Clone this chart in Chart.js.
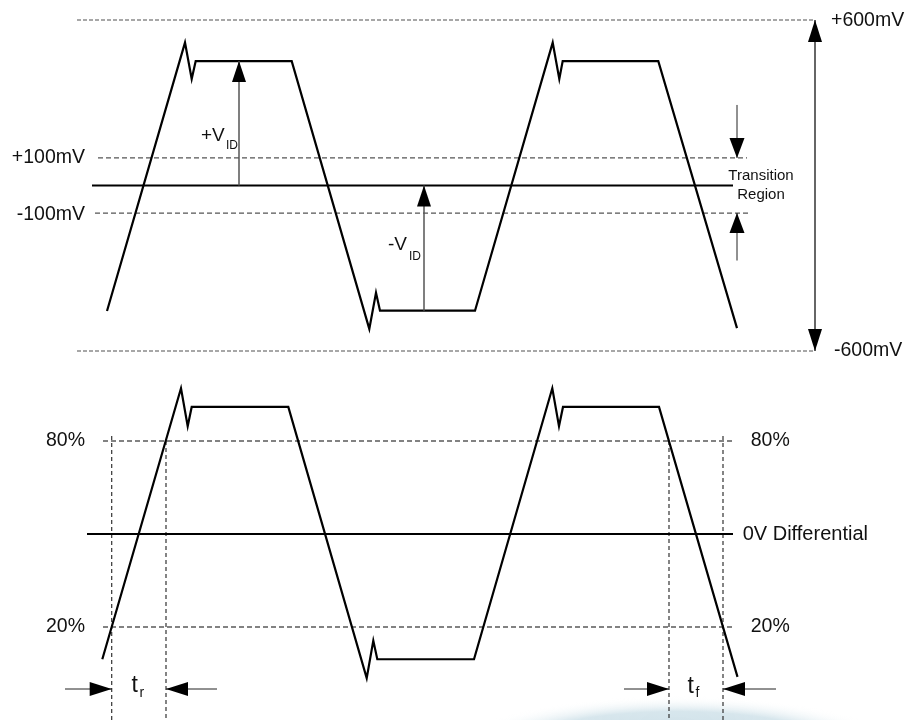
<!DOCTYPE html>
<html>
<head>
<meta charset="utf-8">
<script src="https://cdn.jsdelivr.net/npm/chart.js@4.4.1/dist/chart.umd.min.js"></script>
<style>
  html, body { margin: 0; padding: 0; background: #fff; }
  #wrap { width: 909px; height: 720px; position: relative; }
</style>
</head>
<body>
<div id="wrap"><canvas id="chart"></canvas></div>
<script>
// receiver input, differential voltage (mV) vs time (arbitrary units)
const timeTop = [107, 185, 191.7, 195.7, 291.7, 369.3, 376, 380, 475, 552.7, 559.3, 562.7, 658.3, 737];
const mvTop   = [-455, 518, 386, 451, 451, -520, -389, -454, -454, 518, 386, 451, 451, -517];

// output swing in % vs time
const timeBot = [102.3, 181, 187.7, 191.7, 288.3, 366.7, 373.3, 377.3, 474, 552.3, 559, 563, 659, 737.5];
const pctBot  = [9.6, 97, 84.8, 91, 91, 3.5, 15.6, 9.6, 9.6, 97, 84.8, 91, 91, 3.9];

// reference levels
const mvLevels    = [600, 100, 0, -100, -600];
const mvLevelFrom = [77, 98, 92, 95, 77];
const mvLevelTo   = [813, 747, 733, 749, 813];
const mvLabels    = ['+600mV', '+100mV', '-100mV', '-600mV'];

const pctLevels    = [80, 50, 20];
const pctLevelFrom = [103, 87, 103];
const pctLevelTo   = [735, 733, 732];
const pctLabels    = ['80%', '20%'];

// 20% / 80% crossing times (tr on the left, tf on the right)
const edgeTimes  = [111.7, 166, 669, 723];
const edgeTopPct = [81.6, 80, 80, 81.6];

const pts = (xs, ys) => xs.map((x, i) => ({ x: x, y: ys[i] }));
const seg = (x1, x2, y1, y2) => [{ x: x1, y: y1 }, { x: x2, y: y2 }];

const datasets = [];
datasets.push({ data: pts(timeTop, mvTop), yAxisID: 'yTop', borderColor: '#000', borderWidth: 2.2 });
datasets.push({ data: pts(timeBot, pctBot), yAxisID: 'yBot', borderColor: '#000', borderWidth: 2.2 });

mvLevels.forEach((v, i) => {
  const big = Math.abs(v) === 600;
  datasets.push({
    data: seg(mvLevelFrom[i], mvLevelTo[i], v, v), yAxisID: 'yTop',
    borderColor: v === 0 ? '#000' : (big ? '#8a8a8a' : '#555'),
    borderWidth: v === 0 ? 2 : (big ? 1.6 : 1.2),
    borderDash: v === 0 ? [] : (big ? [4, 2] : [5, 3])
  });
});
pctLevels.forEach((p, i) => {
  datasets.push({
    data: seg(pctLevelFrom[i], pctLevelTo[i], p, p), yAxisID: 'yBot',
    borderColor: p === 50 ? '#000' : '#5a5a5a',
    borderWidth: p === 50 ? 2 : 1.4,
    borderDash: p === 50 ? [] : [5, 3]
  });
});
edgeTimes.forEach((t, i) => {
  datasets.push({
    data: seg(t, t, edgeTopPct[i], -10), yAxisID: 'yBot',
    borderColor: '#333', borderWidth: 1.2, borderDash: [4, 3]
  });
});

const FONT = '"Liberation Sans", Arial, Helvetica, sans-serif';

function head(ctx, x, y, ang, len, hw) {
  ctx.save();
  ctx.translate(x, y);
  ctx.rotate(ang);
  ctx.beginPath();
  ctx.moveTo(0, 0);
  ctx.lineTo(-len, -hw);
  ctx.lineTo(-len, hw);
  ctx.closePath();
  ctx.fillStyle = '#000';
  ctx.fill();
  ctx.restore();
}

function arrow(ctx, x1, y1, x2, y2, color, width, both, len, hw) {
  ctx.save();
  ctx.strokeStyle = color;
  ctx.lineWidth = width;
  ctx.beginPath();
  ctx.moveTo(x1, y1);
  ctx.lineTo(x2, y2);
  ctx.stroke();
  ctx.restore();
  const a = Math.atan2(y2 - y1, x2 - x1);
  head(ctx, x2, y2, a, len, hw);
  if (both) head(ctx, x1, y1, a + Math.PI, len, hw);
}

function text(ctx, s, x, y, align, base, size) {
  ctx.save();
  ctx.font = size + 'px ' + FONT;
  ctx.fillStyle = '#111';
  ctx.textAlign = align;
  ctx.textBaseline = base;
  ctx.fillText(s, x, y);
  ctx.restore();
}

const annot = {
  id: 'annot',
  beforeDraw(chart) {
    // faint blue smudge at the bottom right of the original
    const ctx = chart.ctx, a = chart.chartArea;
    const cx = a.left + a.width * 0.745, cy = a.bottom + 38, rx = 235, ry = 62;
    ctx.save();
    ctx.translate(cx, cy);
    ctx.scale(1, ry / rx);
    const g = ctx.createRadialGradient(0, 0, 0, 0, 0, rx);
    g.addColorStop(0, 'rgba(190,214,225,1)');
    g.addColorStop(0.75, 'rgba(205,224,232,0.8)');
    g.addColorStop(1, 'rgba(255,255,255,0)');
    ctx.fillStyle = g;
    ctx.beginPath();
    ctx.arc(0, 0, rx, 0, Math.PI * 2);
    ctx.fill();
    ctx.restore();
  },
  afterDatasetsDraw(chart) {
    const ctx = chart.ctx;
    const X = v => chart.scales.x.getPixelForValue(v);
    const YT = v => chart.scales.yTop.getPixelForValue(v);
    const YB = v => chart.scales.yBot.getPixelForValue(v);

    // +VID / -VID
    arrow(ctx, X(239), YT(0), X(239), YT(451), '#555', 1.5, false, 21, 7);
    arrow(ctx, X(424), YT(-454), X(424), YT(0), '#555', 1.5, false, 21, 7);
    // full swing
    arrow(ctx, X(815), YT(-600), X(815), YT(600), '#333', 1.5, true, 22, 7);
    // transition region
    arrow(ctx, X(737), YT(292), X(737), YT(100), '#222', 1, false, 20, 7.5);
    arrow(ctx, X(737), YT(-272), X(737), YT(-100), '#222', 1, false, 20, 7.5);
    // tr / tf
    arrow(ctx, X(65), YB(0), X(edgeTimes[0]), YB(0), '#222', 1, false, 22, 7);
    arrow(ctx, X(217), YB(0), X(edgeTimes[1]), YB(0), '#222', 1, false, 22, 7);
    arrow(ctx, X(624), YB(0), X(edgeTimes[2]), YB(0), '#222', 1, false, 22, 7);
    arrow(ctx, X(776), YB(0), X(edgeTimes[3]), YB(0), '#222', 1, false, 22, 7);

    // level labels
    text(ctx, mvLabels[0], X(831), YT(600) + 1, 'left', 'middle', 19.5);
    text(ctx, mvLabels[1], X(85), YT(100), 'right', 'middle', 19.5);
    text(ctx, mvLabels[2], X(85), YT(-100) + 2, 'right', 'middle', 19.5);
    text(ctx, mvLabels[3], X(834), YT(-600), 'left', 'middle', 19.5);
    text(ctx, 'Transition', X(761), YT(34), 'center', 'middle', 15);
    text(ctx, 'Region', X(761), YT(-34), 'center', 'middle', 15);
    text(ctx, '+V', X(201), YT(163), 'left', 'alphabetic', 19);
    text(ctx, 'ID', X(226), YT(132), 'left', 'alphabetic', 12);
    text(ctx, '-V', X(388), YT(-234), 'left', 'alphabetic', 19);
    text(ctx, 'ID', X(409), YT(-270), 'left', 'alphabetic', 12);

    text(ctx, pctLabels[0], X(85), YB(80), 'right', 'middle', 19.5);
    text(ctx, pctLabels[1], X(85), YB(20), 'right', 'middle', 19.5);
    text(ctx, pctLabels[0], X(750.7), YB(80), 'left', 'middle', 19.5);
    text(ctx, pctLabels[1], X(750.7), YB(20), 'left', 'middle', 19.5);
    text(ctx, '0V Differential', X(742.7), YB(50), 'left', 'middle', 20);
    text(ctx, 't', X(131.5), YB(-1.06), 'left', 'alphabetic', 23);
    text(ctx, 'r', X(139.5), YB(-2.5), 'left', 'alphabetic', 14);
    text(ctx, 't', X(687.5), YB(-1.3), 'left', 'alphabetic', 23);
    text(ctx, 'f', X(695.5), YB(-2.6), 'left', 'alphabetic', 14);
  }
};

new Chart(document.getElementById('chart'), {
  type: 'scatter',
  data: { datasets: datasets.map(d => Object.assign({ showLine: true, pointRadius: 0, fill: false, tension: 0 }, d)) },
  options: {
    responsive: true,
    maintainAspectRatio: false,
    animation: false,
    layout: { padding: 0 },
    plugins: { legend: { display: false }, tooltip: { enabled: false } },
    scales: {
      x: { type: 'linear', min: 0, max: 909, display: false },
      yTop: { type: 'linear', min: -1937.8, max: 672.5, display: false },
      yBot: { type: 'linear', min: -10, max: 222.26, display: false }
    }
  },
  plugins: [annot]
});
</script>
</body>
</html>
